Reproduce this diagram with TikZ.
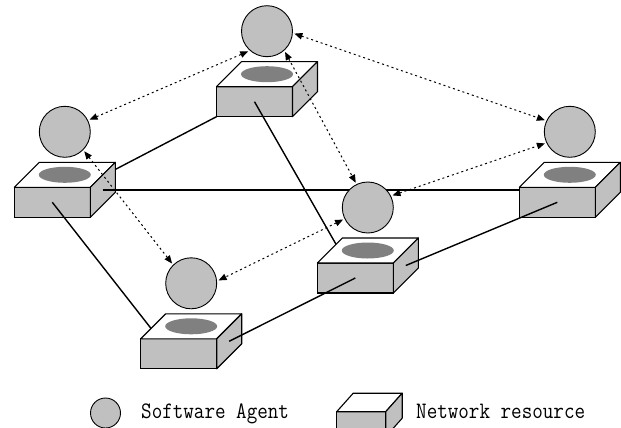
\documentclass[tikz,border=0pt]{standalone}
\usepackage{tikz}
\usetikzlibrary{arrows.meta, shapes.geometric}
\definecolor{agentgray}{RGB}{192,192,192}
\definecolor{holegray}{RGB}{128,128,128}
\pgfdeclarelayer{back}
\pgfdeclarelayer{lower}
\pgfsetlayers{back,lower,main}

\begin{document}
\begin{tikzpicture}[x=1pt, y=-1pt,
    resfront/.style={rectangle, draw, line width=1.1pt, fill=agentgray, minimum width=76pt, minimum height=30pt, inner sep=0pt, outer sep=0pt},
    restop/.style={draw, line width=1.1pt, fill=white, line join=round},
    resside/.style={draw, line width=1.1pt, fill=agentgray, line join=round},
    hole/.style={ellipse, fill=holegray, minimum width=52pt, minimum height=16pt, inner sep=0pt},
    agent/.style={circle, draw, line width=0.9pt, fill=agentgray, minimum size=51pt, inner sep=0pt, outer sep=2pt},
    link/.style={line width=1.4pt},
    msg/.style={{Triangle[length=8pt,width=6.5pt]}-{Triangle[length=8pt,width=6.5pt]}, line width=1pt, dash pattern=on 2pt off 3pt},
    legendtext/.style={font=\ttfamily\fontsize{20.5}{24}\selectfont, anchor=base west, inner sep=0pt}
]
    \useasboundingbox (0,0) rectangle (621,428);
    \clip (0,0) rectangle (621,428);

    % === RESOURCES A, B (behind the first links) ===
    \begin{pgfonlayer}{lower}
    \node[resfront] (resA) at (52.3,202.3) {};
    \draw[restop] (resA.north west) -- ++(25,-25) -- ++(76,0) -- (resA.north east) -- cycle;
    \draw[resside] (resA.north east) -- ++(25,-25) -- ++(0,30) -- (resA.south east) -- cycle;
    \node[hole] (holeA) at ([shift={(12.5,-12.5)}]resA.north) {};
    \coordinate (sideA) at ([shift={(12.5,-12.5)}]resA.east);

    \node[resfront] (resB) at (254.5,101.7) {};
    \draw[restop] (resB.north west) -- ++(25,-25) -- ++(76,0) -- (resB.north east) -- cycle;
    \draw[resside] (resB.north east) -- ++(25,-25) -- ++(0,30) -- (resB.south east) -- cycle;
    \node[hole] (holeB) at ([shift={(12.5,-12.5)}]resB.north) {};
    \end{pgfonlayer}

    % === RESOURCES C, D, E ===
    \node[resfront] (resC) at (557.3,202.3) {};
    \draw[restop] (resC.north west) -- ++(25,-25) -- ++(76,0) -- (resC.north east) -- cycle;
    \draw[resside] (resC.north east) -- ++(25,-25) -- ++(0,30) -- (resC.south east) -- cycle;
    \node[hole] (holeC) at ([shift={(12.5,-12.5)}]resC.north) {};

    \node[resfront] (resD) at (355.3,278) {};
    \draw[restop] (resD.north west) -- ++(25,-25) -- ++(76,0) -- (resD.north east) -- cycle;
    \draw[resside] (resD.north east) -- ++(25,-25) -- ++(0,30) -- (resD.south east) -- cycle;
    \node[hole] (holeD) at ([shift={(12.5,-12.5)}]resD.north) {};
    \coordinate (sideD) at ([shift={(12.5,-12.5)}]resD.east);

    \node[resfront] (resE) at (178.7,353.8) {};
    \draw[restop] (resE.north west) -- ++(25,-25) -- ++(76,0) -- (resE.north east) -- cycle;
    \draw[resside] (resE.north east) -- ++(25,-25) -- ++(0,30) -- (resE.south east) -- cycle;
    \node[hole] (holeE) at ([shift={(12.5,-12.5)}]resE.north) {};
    \coordinate (sideE) at ([shift={(12.5,-12.5)}]resE.east);

    % === LINKS ===
    \begin{pgfonlayer}{back}
    \draw[link] (resA.center) -- (resB.south west);
    \end{pgfonlayer}
    \begin{pgfonlayer}{lower}
    \draw[link] (sideA) -- (sideA -| resC);
    \draw[link] (resA.center) -- ([yshift=-10]resE.center);
    \draw[link] (resB.center) -- (resD.center);
    \end{pgfonlayer}
    \draw[link] (sideE) -- (resD.center);
    \draw[link] (sideD) -- (resC.center);

    % === AGENTS ===
    \node[agent] (agA) at ([shift={(12.5,-55.5)}]resA.north) {};
    \node[agent] (agB) at ([shift={(12.5,-55.5)}]resB.north) {};
    \node[agent] (agC) at ([shift={(12.5,-55.5)}]resC.north) {};
    \node[agent] (agD) at ([shift={(12.5,-55.5)}]resD.north) {};
    \node[agent] (agE) at ([shift={(12.5,-55.5)}]resE.north) {};

    % === MESSAGES ===
    \draw[msg] (agA.26) -- (agB.227);
    \draw[msg] (agB.355) -- (agC.155);
    \draw[msg] (agD.26) -- (agC.205);
    \draw[msg] (agD.206) -- (agE.6);
    \draw[msg] (agA.315) -- (agE.134);
    \draw[msg] (agB.311) -- (agD.116);

    % === LEGEND ===
    \node[agent, minimum size=30pt] (legagent) at (105.5,413) {};
    \node[legendtext] (lbagent) at (141,418.3) {\scalebox{1}[1.15]{Software Agent}};
    \node[resfront, minimum width=49pt, minimum height=25pt] (legres) at (361.2,424.2) {};
    \draw[restop] (legres.north west) -- ++(16.5,-18.5) -- ++(49,0) -- (legres.north east) -- cycle;
    \draw[resside] (legres.north east) -- ++(16.5,-18.5) -- ++(0,25) -- (legres.south east) -- cycle;
    \node[legendtext] (lbres) at (416,418.3) {\scalebox{1}[1.15]{Network resource}};
\end{tikzpicture}
\end{document}
